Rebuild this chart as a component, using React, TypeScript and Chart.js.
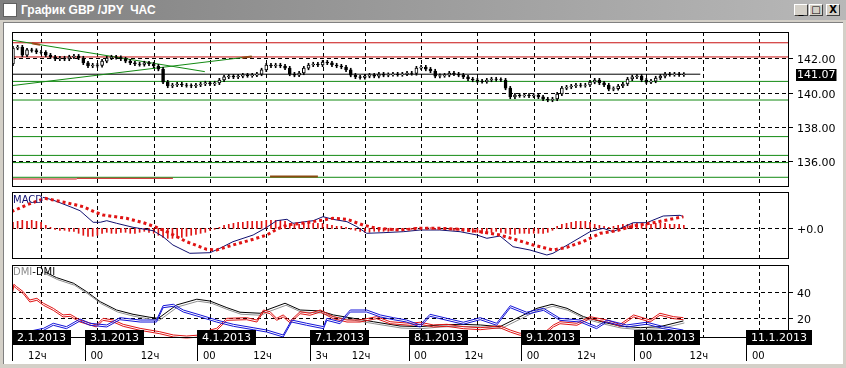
import { useEffect, useRef } from "react";
import { Chart, registerables } from "chart.js";
Chart.register(...registerables);

const FONT = "DejaVu Sans";

// ---------------- data ----------------
// hourly bars, index 0 = 2.1.2013 06:00 (weekend removed)
const closes = [
  142.60, 142.66, 142.19, 142.49, 142.46, 142.37, 142.35, 142.19, 142.08, 141.96,
  142.02, 141.96, 142.08, 142.13, 142.02, 141.73, 141.55, 141.61, 141.58, 141.84,
  142.02, 142.08, 142.05, 141.96, 141.84, 141.73, 141.67, 141.64, 141.73, 141.67,
  141.55, 141.37, 140.61, 140.38, 140.44, 140.50, 140.44, 140.41, 140.38, 140.44,
  140.50, 140.56, 140.50, 140.56, 140.73, 140.91, 140.96, 140.91, 140.96, 141.02,
  140.99, 141.02, 141.08, 141.32, 141.61, 141.55, 141.61, 141.55, 141.43, 141.08,
  141.02, 141.14, 141.43, 141.61, 141.67, 141.61, 141.78, 141.73, 141.61, 141.55,
  141.49, 141.32, 141.02, 140.91, 140.88, 140.96, 141.02, 140.96, 141.08, 141.02,
  141.05, 141.08, 141.05, 141.08, 141.14, 141.11, 141.43, 141.49, 141.37, 141.26,
  140.96, 140.99, 141.02, 141.14, 141.08, 141.02, 140.91, 140.79, 140.73, 140.67,
  140.64, 140.73, 140.79, 140.76, 140.73, 140.26, 139.74, 139.85, 139.82, 139.85,
  139.80, 139.85, 139.74, 139.62, 139.56, 139.62, 139.91, 140.26, 140.32, 140.38,
  140.44, 140.41, 140.44, 140.61, 140.73, 140.56, 140.44, 140.20, 140.23, 140.38,
  140.50, 140.79, 140.91, 140.96, 140.73, 140.61, 140.67, 140.85, 140.96, 141.08,
  141.05, 141.08, 141.04, 141.07,
];
const FIRST_OPEN = 141.67;
const WICK = 0.1;
const LAST_PRICE = 141.07;
const LAST_PRICE_END = 146.5; // bar index where the price line ends

const PRICE_MIN = 134.53;
const PRICE_MAX = 143.54;
const PRICE_TICKS = [142, 140, 138, 136];

// horizontal support / resistance levels
const levelPrices = [142.91, 142.08, 140.65, 139.56, 137.42, 136.32, 135.9, 135.04];
const levelColors = ["#c81010", "#c81010", "#138a13", "#138a13", "#138a13", "#138a13", "#138a13", "#138a13"];

// trend lines [x0, y0, x1, y1]
const trendDown = [-0.3, 143.07, 40.9, 141.22];
const trendUp = [-0.3, 140.40, 50.9, 142.11];
// short segments [x0, x1, price]
const segRed = [[-0.2, 13.6, 134.94], [13.6, 34.1, 134.98]];
const segBrown = [[54.8, 65.0, 135.08]];
const segBrownOnTrend = [[4.05, 142.88, 5.76, 142.80], [48.8, 142.04, 50.9, 142.11]];

// MACD (value scale: yen)
const macdX = [6.4, 8.5, 12.2, 14.3, 17.1, 18.6, 20, 22.1, 25.6, 29.9, 32, 34.1, 37.7, 42, 44.1, 46.9, 51.2, 54.1, 56.2, 58.4, 59.7, 64, 66.1, 68.2, 71.2, 73.3, 75.4, 78.9, 83.2, 86.8, 91, 95.3, 98.9, 101, 103.8, 106.6, 110.2, 113.8, 115.1, 118.8, 123, 125.8, 127.9, 132.2, 135.1, 138.6, 142.2, 142.9];
const macdY = [0.31, 0.283, 0.216, 0.176, 0.06, 0.06, 0.076, 0.05, 0.01, -0.024, -0.084, -0.167, -0.25, -0.244, -0.2, -0.134, -0.067, 0.01, 0.076, 0.09, 0.05, 0.076, 0.116, 0.09, 0.066, 0.016, -0.05, -0.044, -0.034, -0.017, -0.017, -0.034, -0.067, -0.1, -0.077, -0.184, -0.217, -0.267, -0.25, -0.15, -0.034, 0, -0.034, 0.056, 0.056, 0.123, 0.13, 0.116];
const signalX = [-0.3, 2.9, 6.8, 11.4, 15, 17.8, 19.2, 24.2, 27.8, 30.6, 33.5, 37, 41.3, 43.4, 46.9, 51.2, 54.1, 56.2, 58.4, 62.6, 66.1, 68.2, 71.2, 74.6, 77.5, 82.5, 86.8, 91, 95.3, 99.6, 103.8, 107.4, 110.9, 115.1, 118.1, 121.5, 125.2, 128.7, 132.2, 136.5, 139.4, 142.9];
const signalY = [0.166, 0.233, 0.3, 0.256, 0.216, 0.156, 0.133, 0.1, 0.056, 0.01, -0.05, -0.134, -0.21, -0.217, -0.167, -0.11, -0.067, -0.01, 0.033, 0.056, 0.083, 0.1, 0.09, 0.033, 0, -0.017, 0, 0, -0.01, -0.034, -0.067, -0.117, -0.167, -0.217, -0.19, -0.134, -0.05, -0.024, 0.023, 0.056, 0.083, 0.116];
const histY = [
  0.06, 0.07, 0.08, 0.07, 0.08, 0.07, 0.06, 0.03, 0.01, -0.01,
  -0.02, -0.02, -0.03, -0.03, -0.05, -0.07, -0.08, -0.08, -0.07, -0.05,
  -0.04, -0.05, -0.05, -0.04, -0.04, -0.05, -0.05, -0.04, -0.03, -0.04,
  -0.05, -0.07, -0.09, -0.1, -0.1, -0.09, -0.09, -0.08, -0.07, -0.06,
  -0.05, -0.04, -0.02, -0.01, 0.01, 0.03, 0.04, 0.05, 0.06, 0.06,
  0.07, 0.07, 0.07, 0.07, 0.08, 0.08, 0.08, 0.08, 0.07, 0.05,
  0.04, 0.04, 0.05, 0.05, 0.05, 0.05, 0.05, 0.04, 0.03, 0.02,
  0.02, 0.01, -0.01, -0.02, -0.03, -0.04, -0.04, -0.03, -0.03, -0.03,
  -0.03, -0.02, -0.02, -0.02, -0.01, -0.01, 0.01, 0.01, 0.01, 0.005,
  -0.01, -0.01, -0.01, -0.01, -0.02, -0.02, -0.03, -0.03, -0.04, -0.04,
  -0.05, -0.05, -0.04, -0.03, -0.04, -0.05, -0.06, -0.06, -0.05, -0.05,
  -0.05, -0.05, -0.05, -0.05, -0.04, -0.02, 0.02, 0.04, 0.05, 0.06,
  0.07, 0.07, 0.07, 0.06, 0.04, 0.03, 0.02, 0.01, 0.02, 0.03,
  0.04, 0.04, 0.05, 0.05, 0.04, 0.04, 0.04, 0.05, 0.05, 0.05,
  0.04, 0.04, 0.04, 0.03,
];
const MACD_MIN = -0.297;
const MACD_MAX = 0.363;

// DMI
const adxX = [6.8, 9.3, 12.9, 15.7, 18.6, 22.1, 25.6, 29.2, 31, 34.9, 39.2, 42, 45.6, 48.4, 52.7, 54.1, 58, 61.2, 65.5, 68.3, 72.6, 76.8, 82.5, 86.8, 91, 95.3, 99.6, 103.8, 108.1, 111.7, 114.9, 118.1, 121.6, 125.9, 129.4, 133.7, 137.9, 142.9];
const adxY = [55.2, 50.8, 46.5, 40, 32.3, 25.9, 22.6, 20.3, 19.5, 29.8, 34.2, 32.8, 27.7, 24.2, 23.4, 25.9, 31.1, 25.9, 25.2, 22.1, 19.5, 16.9, 13.6, 13.1, 14.4, 14.9, 14.4, 13.1, 20.8, 27.2, 30.3, 27.2, 20.8, 16.5, 13.6, 12.3, 13.1, 17.5];
const plusX = [-0.3, 0.2, 0.8, 2.2, 3.6, 5.1, 6.5, 8.6, 10.7, 12.2, 14.3, 17.8, 19.2, 21.4, 23.5, 27.1, 31.3, 34.2, 37, 39.9, 42, 43.4, 45.6, 49.8, 52, 53.4, 54.8, 56.2, 57.6, 59.1, 61.2, 63.3, 65.5, 68.3, 71.2, 74, 77.5, 80.4, 84.6, 86.8, 89.6, 92.5, 96, 99.6, 103.8, 106, 108.1, 109.5, 112.4, 115.2, 116.6, 120.2, 123, 126.6, 129.4, 132.3, 135.8, 137.9, 140.8, 142.9];
const plusY = [38, 45.7, 43.8, 40, 33.6, 34.9, 31.1, 27.2, 22.1, 22.6, 18.2, 14.4, 19.5, 18.2, 14.9, 11.8, 9.2, 6.7, 5.9, 6.7, 10.5, 11.8, 19.5, 20, 18.2, 25.9, 24.6, 19.5, 22.1, 17.5, 24.6, 23.4, 25.9, 20.8, 18.2, 18.2, 20.8, 16.9, 15.7, 16.5, 14.4, 14.9, 13.1, 12.3, 13.8, 10.5, 8, 9.2, 5.9, 14.4, 16.9, 15.7, 20.8, 18.2, 14.9, 22.1, 18.2, 23.4, 20.8, 20];
const minusX = [-0.3, 6.5, 8.6, 11.4, 14.3, 16.4, 20, 22.8, 27.1, 30.6, 32, 34.2, 36.3, 39.9, 43.4, 47, 51.2, 54.1, 57.6, 59.4, 62.6, 66.2, 66.9, 69.7, 71.9, 75.4, 78.3, 81.1, 83.9, 86.8, 88.9, 92.5, 96, 99.6, 103.1, 106, 109.5, 113.1, 116.6, 120.9, 124.4, 126.6, 130.8, 135.1, 138.7, 142.9];
const minusY = [6.7, 11.8, 15.7, 13.1, 19, 15.7, 14.4, 20, 18.2, 18.2, 29.2, 30.3, 25.9, 22.1, 18.2, 14.9, 12.3, 10.5, 6.7, 18.2, 15.7, 13.1, 19.5, 16.9, 25.9, 25.9, 22.1, 20, 18.2, 14.4, 22.6, 19.5, 16.5, 20, 15.7, 29.2, 24.2, 27.2, 19.5, 18.2, 13.1, 18.2, 14.4, 16.5, 13.1, 10.5];
const DMI_MIN = 5.15;
const DMI_MAX = 60.5;
const DMI_TICKS = [40, 20];

// time axis
const XMIN = -0.2;
const XMAX = 165.2;
const gridIdx = [6, 18, 30, 42, 54, 66, 75, 87, 99, 111, 123, 135, 147, 159];
const hourLabels = ["12ч", "00", "12ч", "00", "12ч", "3ч", "12ч", "00", "12ч", "00", "12ч", "00", "12ч", "00"];
const dayIdx = [-6, 18, 42, 66, 87, 111, 135, 159];
const dayLabels = ["2.1.2013", "3.1.2013", "4.1.2013", "7.1.2013", "8.1.2013", "9.1.2013", "10.1.2013", "11.1.2013"];

// ---------------- helpers ----------------
const pts = (xs: number[], ys: number[]) => xs.map((x, i) => ({ x, y: ys[i] }));
const W = 846;

function framePlugin(cfg: {
  yTicks: number[];
  yLabel: (v: number) => string;
  hGrid: boolean;
}) {
  return {
    id: "frame",
    beforeDatasetsDraw(chart: any) {
      const { ctx, chartArea: a, scales } = chart;
      ctx.save();
      ctx.strokeStyle = "#000";
      ctx.lineWidth = 1;
      ctx.setLineDash([4, 3]);
      for (const g of gridIdx) {
        const x = Math.round(scales.x.getPixelForValue(g)) + 0.5;
        if (x < a.left || x > a.right) continue;
        ctx.beginPath();
        ctx.moveTo(x, a.top);
        ctx.lineTo(x, a.bottom);
        ctx.stroke();
      }
      if (cfg.hGrid) {
        for (const v of cfg.yTicks) {
          const y = Math.round(scales.y.getPixelForValue(v)) + 0.5;
          ctx.beginPath();
          ctx.moveTo(a.left, y);
          ctx.lineTo(a.right, y);
          ctx.stroke();
        }
      }
      ctx.restore();
    },
    beforeDatasetDraw(chart: any, args: any) {
      const ds = chart.data.datasets[args.index];
      if (ds.shift) {
        chart.ctx.save();
        chart.ctx.translate(ds.shift[0], ds.shift[1]);
      }
    },
    afterDatasetDraw(chart: any, args: any) {
      const ds = chart.data.datasets[args.index];
      if (ds.shift) chart.ctx.restore();
    },
    afterDatasetsDraw(chart: any) {
      const { ctx, chartArea: a, scales } = chart;
      ctx.save();
      ctx.strokeStyle = "#000";
      ctx.lineWidth = 1;
      ctx.setLineDash([]);
      ctx.strokeRect(Math.round(a.left) + 0.5, Math.round(a.top) + 0.5, Math.round(a.right - a.left), Math.round(a.bottom - a.top));
      ctx.font = `11px "${FONT}"`;
      ctx.fillStyle = "#000";
      ctx.textBaseline = "middle";
      for (const v of cfg.yTicks) {
        const y = Math.round(scales.y.getPixelForValue(v)) + 0.5;
        ctx.beginPath();
        ctx.moveTo(a.right, y);
        ctx.lineTo(a.right + 5, y);
        ctx.stroke();
        ctx.fillText(cfg.yLabel(v), a.right + 9, y + 2);
      }
      ctx.restore();
    },
  };
}

const xScale = { type: "linear", min: XMIN, max: XMAX, display: false, offset: false };
const baseOptions = (pad: any, ymin: number, ymax: number, extraPlugins: any = {}) => ({
  responsive: false,
  animation: false,
  events: [],
  layout: { padding: pad },
  scales: {
    x: xScale,
    y: { type: "linear", min: ymin, max: ymax, display: false },
  },
  plugins: { legend: { display: false }, tooltip: { enabled: false }, ...extraPlugins },
  elements: { point: { radius: 0 }, line: { tension: 0 } },
});

function lineDs(data: any[], color: string, width = 1, extra: any = {}) {
  return { type: "line", data, borderColor: color, borderWidth: width, pointRadius: 0, fill: false, order: 1, ...extra };
}

function useChart(ref: any, make: () => any) {
  useEffect(() => {
    const c = new Chart(ref.current, make());
    return () => c.destroy();
  }, []);
}

function MainPanel() {
  const ref = useRef<HTMLCanvasElement>(null);
  useChart(ref, () => {
    const opens = closes.map((c, i) => (i === 0 ? FIRST_OPEN : closes[i - 1]));
    const bodies = closes.map((c, i) => ({ x: i, y: [opens[i], c] }));
    const wicks = closes.map((c, i) => ({ x: i, y: [Math.min(opens[i], c) - WICK, Math.max(opens[i], c) + WICK] }));
    const datasets: any[] = [];
    levelPrices.forEach((p, i) =>
      datasets.push(lineDs([{ x: XMIN, y: p }, { x: XMAX, y: p }], levelColors[i], 1, { order: 5 }))
    );
    datasets.push(lineDs([{ x: XMIN, y: LAST_PRICE }, { x: LAST_PRICE_END, y: LAST_PRICE }], "#000", 1, { order: 5 }));
    datasets.push(lineDs([{ x: trendDown[0], y: trendDown[1] }, { x: trendDown[2], y: trendDown[3] }], "#138a13", 1, { order: 4 }));
    datasets.push(lineDs([{ x: trendUp[0], y: trendUp[1] }, { x: trendUp[2], y: trendUp[3] }], "#138a13", 1, { order: 4 }));
    segRed.forEach((s) => datasets.push(lineDs([{ x: s[0], y: s[2] }, { x: s[1], y: s[2] }], "#c81010", 1, { order: 3 })));
    segBrown.forEach((s) => datasets.push(lineDs([{ x: s[0], y: s[2] }, { x: s[1], y: s[2] }], "#8b4a10", 2, { order: 3 })));
    segBrownOnTrend.forEach((s) => datasets.push(lineDs([{ x: s[0], y: s[1] }, { x: s[2], y: s[3] }], "#9a4a1a", 2, { order: 3 })));
    datasets.push({
      type: "bar", data: wicks, backgroundColor: "#000", barThickness: 1, grouped: false, order: 2, borderWidth: 0,
    });
    datasets.push({
      type: "bar", data: bodies, grouped: false, order: 1, barThickness: 3,
      backgroundColor: (ctx: any) => (closes[ctx.dataIndex] >= opens[ctx.dataIndex] ? "#fff" : "#000"),
      borderColor: "#000", borderWidth: 1, borderSkipped: false,
    });
    const lastLabel = {
      id: "lastLabel",
      afterDraw(chart: any) {
        const { ctx, chartArea: a, scales } = chart;
        const y = Math.round(scales.y.getPixelForValue(LAST_PRICE));
        ctx.save();
        ctx.font = `11px "${FONT}"`;
        const t = LAST_PRICE.toFixed(2);
        const tw = ctx.measureText(t).width;
        ctx.fillStyle = "#000";
        ctx.fillRect(a.right + 8, y - 5, tw + 2, 12);
        ctx.fillStyle = "#fff";
        ctx.textBaseline = "middle";
        ctx.fillText(t, a.right + 9, y + 1);
        ctx.restore();
      },
    };
    return {
      type: "line",
      data: { datasets },
      options: baseOptions({ left: 12, right: W - 788, top: 10, bottom: 4 }, PRICE_MIN, PRICE_MAX),
      plugins: [framePlugin({ yTicks: PRICE_TICKS, yLabel: (v) => v.toFixed(2), hGrid: true }), lastLabel],
    };
  });
  return <canvas ref={ref} width={W} height={168} style={{ position: "absolute", left: 0, top: 22 }} />;
}

function MacdPanel() {
  const ref = useRef<HTMLCanvasElement>(null);
  useChart(ref, () => {
    const datasets: any[] = [
      lineDs(pts(signalX, signalY), "#e01414", 3, { borderDash: [3, 3], borderCapStyle: "butt", order: 1 }),
      lineDs(pts(macdX, macdY), "#101070", 1, { order: 2 }),
      { type: "bar", data: histY.map((v, i) => ({ x: i, y: v })), backgroundColor: "#e01414", barThickness: 1, grouped: false, order: 3 },
    ];
    const label = {
      id: "macdLabel",
      afterDraw(chart: any) {
        const { ctx, chartArea: a } = chart;
        ctx.save();
        ctx.font = `10px "${FONT}"`;
        ctx.fillStyle = "#101070";
        ctx.textBaseline = "top";
        ctx.fillText("MACD", a.left + 1, a.top + 3);
        ctx.restore();
      },
    };
    return {
      type: "line",
      data: { datasets },
      options: baseOptions({ left: 12, right: W - 788, top: 2, bottom: 4 }, MACD_MIN, MACD_MAX),
      plugins: [framePlugin({ yTicks: [0], yLabel: () => "+0.0", hGrid: true }), label],
    };
  });
  return <canvas ref={ref} width={W} height={72} style={{ position: "absolute", left: 0, top: 190 }} />;
}

function DmiPanel() {
  const ref = useRef<HTMLCanvasElement>(null);
  useChart(ref, () => {
    const datasets: any[] = [
      lineDs(pts(adxX, adxY), "#909090", 1, { order: 3, shift: [1, 2] }),
      lineDs(pts(adxX, adxY), "#000", 1, { order: 3 }),
      lineDs(pts(plusX, plusY), "#e01414", 1, { order: 2, shift: [0, 2] }),
      lineDs(pts(plusX, plusY), "#e01414", 1, { order: 2 }),
      lineDs(pts(minusX, minusY), "#1414d8", 1, { order: 1, shift: [0, 2] }),
      lineDs(pts(minusX, minusY), "#1414d8", 1, { order: 1 }),
    ];
    const axisLabels = {
      id: "timeAxis",
      afterDraw(chart: any) {
        const { ctx, chartArea: a, scales } = chart;
        ctx.save();
        ctx.textBaseline = "middle";
        const boxTop = a.bottom - 7;
        // hour labels
        ctx.font = `10px "${FONT}"`;
        ctx.fillStyle = "#000";
        gridIdx.forEach((g, i) => {
          const x = scales.x.getPixelForValue(g);
          const off = hourLabels[i] === "12ч" ? 13 : 7;
          ctx.fillText(hourLabels[i], x - off, a.bottom + 19);
        });
        // day boxes
        ctx.font = `11px "${FONT}"`;
        ctx.strokeStyle = "#000";
        ctx.lineWidth = 1;
        dayIdx.forEach((d, i) => {
          let x = Math.round(scales.x.getPixelForValue(d) - 12.5);
          if (x < a.left) x = Math.round(a.left);
          const tw = ctx.measureText(dayLabels[i]).width;
          ctx.beginPath();
          ctx.moveTo(x + 0.5, boxTop);
          ctx.lineTo(x + 0.5, a.bottom + 24);
          ctx.stroke();
          ctx.fillStyle = "#000";
          ctx.fillRect(x, boxTop, Math.round(tw + 10), 15);
          ctx.fillStyle = "#fff";
          ctx.fillText(dayLabels[i], x + 5, boxTop + 8);
        });
        // indicator caption
        ctx.font = `10px "${FONT}"`;
        ctx.textBaseline = "top";
        ctx.fillStyle = "#8a8a8a";
        ctx.fillText("DMI", a.left + 1, a.top + 2);
        const w1 = ctx.measureText("DMI").width;
        ctx.fillStyle = "#000";
        ctx.fillText("-DMI", a.left + 1 + w1, a.top + 2);
        ctx.restore();
      },
    };
    return {
      type: "line",
      data: { datasets },
      options: baseOptions({ left: 12, right: W - 788, top: 3, bottom: 27 }, DMI_MIN, DMI_MAX),
      plugins: [framePlugin({ yTicks: DMI_TICKS, yLabel: (v) => String(v), hGrid: true }), axisLabels],
    };
  });
  return <canvas ref={ref} width={W} height={102} style={{ position: "absolute", left: 0, top: 262 }} />;
}

function TitleButton({ left, children }: { left: number; children: any }) {
  return (
    <div
      style={{
        position: "absolute", left, top: 4, width: 14, height: 12, background: "#d4d0c8",
        borderTop: "1px solid #fff", borderLeft: "1px solid #fff", borderRight: "1px solid #404040",
        borderBottom: "1px solid #404040", boxSizing: "border-box", fontSize: 10, lineHeight: "10px",
        textAlign: "center", fontFamily: FONT, fontWeight: "bold", color: "#000",
      }}
    >
      {children}
    </div>
  );
}

export default function App() {
  return (
    <div style={{ position: "absolute", left: 0, top: 0, width: W, height: 368, background: "#d4d0c8", overflow: "hidden" }}>
      <div style={{ position: "absolute", left: 0, top: 0, width: W, height: 20, background: "linear-gradient(to right, #808080, #b8b8b8)" }}>
        <div style={{ position: "absolute", left: 3, top: 3, width: 14, height: 14, background: "#fff", border: "1px solid #606060", boxSizing: "border-box" }} />
        <div style={{ position: "absolute", left: 21, top: 3, color: "#fff", fontFamily: "Liberation Sans", fontWeight: "bold", fontSize: 12, whiteSpace: "pre" }}>
          {"График GBP /JPY  ЧАС"}
        </div>
        <TitleButton left={794}>_</TitleButton>
        <TitleButton left={809}>□</TitleButton>
        <TitleButton left={826}>X</TitleButton>
      </div>
      <div style={{ position: "absolute", left: 3, top: 22, width: 840, height: 342, background: "#fff", borderLeft: "1px solid #808080", borderTop: "1px solid #808080", boxSizing: "border-box" }} />
      <MainPanel />
      <MacdPanel />
      <DmiPanel />
    </div>
  );
}
